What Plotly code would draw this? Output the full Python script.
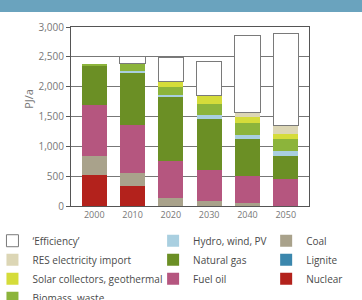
import plotly.graph_objects as go

years = ["2000", "2010", "2020", "2030", "2040", "2050"]
nuclear = [520, 340, 0, 0, 0, 0]
lignite = [0, 0, 0, 0, 0, 0]
coal = [310, 210, 130, 90, 50, 0]
fuel_oil = [870, 810, 630, 510, 460, 450]
natural_gas = [640, 880, 1060, 850, 620, 390]
hydro_wind_pv = [0, 30, 35, 70, 60, 90]
biomass = [35, 110, 145, 195, 200, 190]
solar_geo = [0, 0, 90, 130, 110, 80]
res_import = [0, 0, 0, 0, 75, 150]
efficiency = [None, 120, 405, 570, 1290, 1535]

y_ticks = [0, 500, 1000, 1500, 2000, 2500, 3000]

FONT = "Open Sans"

series = [
    ("Nuclear", nuclear, "#b3221c", "legend3"),
    ("Lignite", lignite, "#3b87ad", "legend3"),
    ("Coal", coal, "#a9a28b", "legend3"),
    ("Fuel oil", fuel_oil, "#b5567f", "legend2"),
    ("Natural gas", natural_gas, "#6b8f25", "legend2"),
    ("Hydro, wind, PV", hydro_wind_pv, "#a9cfe0", "legend2"),
    ("Biomass, waste", biomass, "#8cb43b", "legend"),
    ("Solar collectors, geothermal", solar_geo, "#d5dc3a", "legend"),
    ("RES electricity import", res_import, "#dcd6b5", "legend"),
]

fig = go.Figure()
for name, vals, color, lg in series:
    fig.add_trace(go.Bar(
        x=years, y=vals, name=name, legend=lg,
        marker=dict(color=color, line=dict(width=0)),
    ))
fig.add_trace(go.Bar(
    x=years, y=efficiency, name="\u2018Efficiency\u2019", legend="legend",
    marker=dict(color="white", line=dict(color="#7a7a7a", width=1)),
))

legend_common = dict(
    orientation="v", traceorder="reversed",
    font=dict(family=FONT, size=10, color="#4a4a4a"),
    bgcolor="rgba(0,0,0,0)", yanchor="top", xanchor="left",
    xref="paper", yref="paper",
    itemclick=False,
)

LEG_Y = -0.113

fig.update_layout(
    width=362, height=300,
    margin=dict(l=71, r=53, t=27, b=94, autoexpand=False),
    paper_bgcolor="white", plot_bgcolor="white",
    barmode="stack", bargap=0.34,
    font=dict(family=FONT, color="#666"),
    showlegend=True,
    legend=dict(**legend_common, x=-0.33, y=LEG_Y),
    legend2=dict(**legend_common, x=0.345, y=LEG_Y),
    legend3=dict(**legend_common, x=0.82, y=LEG_Y),
    xaxis=dict(
        type="category", range=[-0.607, 5.607],
        showline=True, linecolor="#555", linewidth=1, mirror=True,
        ticks="", tickfont=dict(size=9, color="#777", family=FONT),
        showgrid=False,
    ),
    yaxis=dict(
        range=[0, 3000], tickvals=y_ticks, tickformat=",d",
        showline=True, linecolor="#555", linewidth=1, mirror=True,
        ticks="outside", ticklen=4, tickcolor="#555",
        tickfont=dict(size=10, color="#777", family=FONT),
        showgrid=True, gridcolor="#777", gridwidth=1,
        zeroline=False,
    ),
    shapes=[dict(
        type="rect", xref="paper", yref="paper",
        x0=-0.4, x1=1.4, y0=1.084, y1=1.3,
        fillcolor="#6aa3be", line=dict(width=0), layer="above",
    )],
    annotations=[dict(
        text="PJ/a", textangle=-90, xref="paper", yref="paper",
        x=-0.18, y=0.6, showarrow=False, xanchor="center", yanchor="middle",
        font=dict(family=FONT, size=11, color="#777"),
    )],
)

fig.write_html("out.html")
